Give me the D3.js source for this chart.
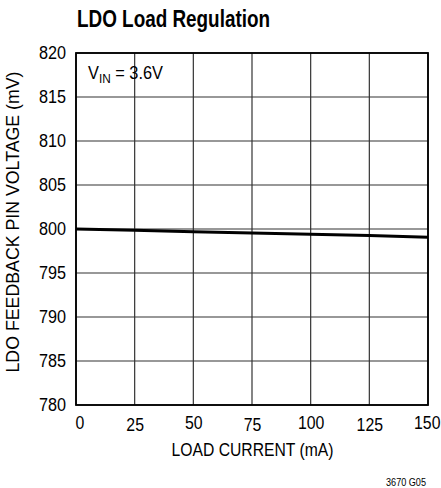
<!DOCTYPE html>
<html>
<head>
<meta charset="utf-8">
<script src="https://cdn.jsdelivr.net/npm/d3@7"></script>
<style>
  body { margin: 0; background: #fff; }
  svg text { font-family: "Liberation Sans", Arial, sans-serif; fill: #000; }
</style>
</head>
<body>
<div id="chart"></div>
<script>
// chart data
let loadCurrent = [0, 25, 50, 75, 100, 125, 150];
let feedbackVoltage = [800.0, 799.85, 799.7, 799.55, 799.4, 799.25, 799.07];
let xTicks = [0, 25, 50, 75, 100, 125, 150];
let yTicks = [780, 785, 790, 795, 800, 805, 810, 815, 820];

let svgWidth = 441;
let svgHeight = 488;

let margins = { top: 53, right: 13, bottom: 83, left: 76 };
let width = svgWidth - margins.left - margins.right;
let height = svgHeight - margins.top - margins.bottom;

// squeeze a text to look like the condensed face of the original
function condense(sel, ratio) {
    sel.each(function() {
        let len = this.getComputedTextLength();
        d3.select(this)
            .attr("textLength", len * ratio)
            .attr("lengthAdjust", "spacingAndGlyphs");
    });
}

let svg = d3.select("#chart")
    .append("svg")
    .attr("width", svgWidth)
    .attr("height", svgHeight);

// title
svg.append("text")
    .attr("x", 77)
    .attr("y", 27)
    .attr("font-size", 24)
    .attr("font-weight", "bold")
    .attr("textLength", 193)
    .attr("lengthAdjust", "spacingAndGlyphs")
    .text("LDO Load Regulation");

let chartGroup = svg.append("g")
    .attr("transform", `translate(${margins.left}, ${margins.top})`);

let xScale = d3.scaleLinear().domain([0, 150]).range([0, width]);
let yScale = d3.scaleLinear().domain([780, 820]).range([height, 0]);

// grid lines
chartGroup.append("g")
    .selectAll("line")
    .data(xTicks)
    .enter()
    .append("line")
    .attr("x1", d => xScale(d))
    .attr("x2", d => xScale(d))
    .attr("y1", 0)
    .attr("y2", height)
    .attr("stroke", "#333")
    .attr("stroke-width", 1.2);

chartGroup.append("g")
    .selectAll("line")
    .data(yTicks)
    .enter()
    .append("line")
    .attr("x1", 0)
    .attr("x2", width)
    .attr("y1", d => yScale(d))
    .attr("y2", d => yScale(d))
    .attr("stroke", "#333")
    .attr("stroke-width", 1.2);

// frame
chartGroup.append("rect")
    .attr("width", width)
    .attr("height", height)
    .attr("fill", "none")
    .attr("stroke", "#000")
    .attr("stroke-width", 1.8);

// axes (labels only)
let bottomAxis = d3.axisBottom(xScale).tickValues(xTicks).tickSize(0).tickPadding(10);
let leftAxis = d3.axisLeft(yScale).tickValues(yTicks).tickSize(0).tickPadding(10);

let xAxisG = chartGroup.append("g")
    .attr("transform", `translate(0, ${height})`)
    .call(bottomAxis);
xAxisG.select(".domain").remove();
xAxisG.selectAll("text").attr("font-size", 18).attr("font-family", null);
// odd labels sit a touch lower in the original
xAxisG.selectAll(".tick text").attr("dy", (d, i) => (i % 2 === 1 ? "0.9em" : "0.75em"));
xAxisG.selectAll(".tick").filter(d => d === 0).select("text").attr("text-anchor", "start").attr("dx", -1);
xAxisG.selectAll(".tick").filter(d => d === 150).select("text").attr("text-anchor", "end").attr("dx", 12);
condense(xAxisG.selectAll("text"), 0.88);

let yAxisG = chartGroup.append("g").call(leftAxis);
yAxisG.select(".domain").remove();
yAxisG.selectAll("text").attr("font-size", 18).attr("font-family", null);
condense(yAxisG.selectAll("text"), 0.9);

// data line
let line = d3.line()
    .x(d => xScale(d[0]))
    .y(d => yScale(d[1]));

chartGroup.append("path")
    .datum(loadCurrent.map((c, i) => [c, feedbackVoltage[i]]))
    .attr("d", line)
    .attr("fill", "none")
    .attr("stroke", "#000")
    .attr("stroke-width", 3);

// condition label
let vin = chartGroup.append("text")
    .attr("x", 12)
    .attr("y", 26)
    .attr("font-size", 18)
    .attr("textLength", 75)
    .attr("lengthAdjust", "spacingAndGlyphs");
vin.append("tspan").text("V");
vin.append("tspan").attr("font-size", 13).attr("dy", 4).text("IN");
vin.append("tspan").attr("dy", -4).text(" = 3.6V");

// axis labels
chartGroup.append("text")
    .attr("transform", "rotate(-90)")
    .attr("x", -(height / 2) + 7)
    .attr("y", -57)
    .attr("text-anchor", "middle")
    .attr("font-size", 18)
    .attr("textLength", 301)
    .attr("lengthAdjust", "spacingAndGlyphs")
    .text("LDO FEEDBACK PIN VOLTAGE (mV)");

chartGroup.append("text")
    .attr("x", width / 2 + 0.5)
    .attr("y", height + 51)
    .attr("text-anchor", "middle")
    .attr("font-size", 18)
    .attr("textLength", 162)
    .attr("lengthAdjust", "spacingAndGlyphs")
    .text("LOAD CURRENT (mA)");

svg.append("text")
    .attr("x", 386)
    .attr("y", 486)
    .attr("font-size", 11)
    .attr("textLength", 40)
    .attr("lengthAdjust", "spacingAndGlyphs")
    .text("3670 G05");
</script>
</body>
</html>
